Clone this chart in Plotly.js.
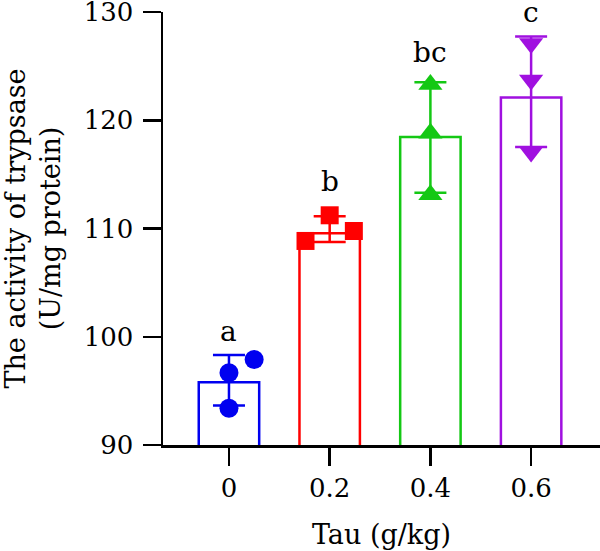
<!DOCTYPE html>
<html>
<head>
<meta charset="utf-8">
<script src="https://cdn.plot.ly/plotly-3.0.1.min.js"></script>
<style>
  html, body { margin: 0; padding: 0; background: #fff; }
  #chart { width: 600px; height: 551px; }
</style>
</head>
<body>
<div id="chart"></div>
<script>
// Tau dose groups (g/kg)
const doses = ['0', '0.2', '0.4', '0.6'];

// Bar heights (group means)
const barMeans = [95.8, 109.55, 118.45, 122.1];

// Individual replicate values per group
const tau0 = [97.9, 96.67, 93.39];
const tau02 = [111.22, 108.85, 109.77];
const tau04 = [123.3, 118.8, 113.12];
const tau06 = [127.1, 123.72, 117.06];

// Significance letters and the value each one sits on
const letters = ['a', 'b', 'bc', 'c'];
const letterY = [99.4, 113.25, 125.24, 128.93];

// Horizontal spread of the replicate points inside each bar
const jitter = [
  [0.25, 0, 0],
  [0, -0.24, 0.24],
  [0, 0, 0],
  [0, 0, 0]
];

const groups = [tau0, tau02, tau04, tau06];
const colors = ['#0000f0', '#ff0000', '#14c814', '#a010e0'];
const symbols = ['circle', 'square', 'triangle-up', 'triangle-down'];
const sizes = [19, 18, 21, 21];
const FONT = 'DejaVu Serif, Liberation Serif, serif';

function mean(a) { return a.reduce((s, v) => s + v, 0) / a.length; }
function sd(a) {
  const m = mean(a);
  return Math.sqrt(a.reduce((s, v) => s + (v - m) * (v - m), 0) / (a.length - 1));
}

const idx = doses.map((_, i) => i);
const traces = [];

// Open bars
traces.push({
  type: 'bar',
  x: idx,
  y: barMeans,
  width: 0.6,
  marker: {
    color: 'rgba(255,255,255,0)',
    line: { color: colors, width: 2.5 }
  },
  hoverinfo: 'skip'
});

// Mean ± SD whiskers and replicate points
groups.forEach((vals, i) => {
  traces.push({
    type: 'scatter',
    mode: 'markers',
    x: [i],
    y: [mean(vals)],
    marker: { size: 0.1, color: colors[i], opacity: 0 },
    error_y: {
      type: 'data',
      array: [sd(vals)],
      visible: true,
      color: colors[i],
      thickness: 2.5,
      width: 16
    },
    hoverinfo: 'skip'
  });
  traces.push({
    type: 'scatter',
    mode: 'markers',
    x: vals.map((_, k) => i + jitter[i][k]),
    y: vals,
    marker: {
      symbol: symbols[i],
      size: sizes[i],
      color: colors[i],
      line: { width: 0 }
    },
    cliponaxis: false
  });
});

const annotations = letters.map((t, i) => ({
  x: i,
  y: letterY[i],
  xref: 'x',
  yref: 'y',
  text: t,
  showarrow: false,
  yanchor: 'bottom',
  yshift: -7,
  font: { family: FONT, size: 28, color: '#000' }
}));

const layout = {
  width: 600,
  height: 551,
  margin: { l: 163, r: 0, t: 12, b: 106 },
  paper_bgcolor: '#fff',
  plot_bgcolor: '#fff',
  showlegend: false,
  bargap: 0,
  font: { family: FONT, color: '#000' },
  xaxis: {
    range: [-0.655, 3.684],
    tickvals: idx,
    ticktext: doses,
    showline: true,
    linecolor: '#000',
    linewidth: 2.5,
    ticks: 'outside',
    ticklen: 18,
    tickwidth: 2.5,
    tickcolor: '#000',
    showgrid: false,
    zeroline: false,
    tickfont: { family: FONT, size: 26, color: '#000' },
    title: {
      text: 'Tau (g/kg)',
      font: { family: FONT, size: 27, color: '#000' },
      standoff: 24
    }
  },
  yaxis: {
    range: [90, 130],
    tickvals: [90, 100, 110, 120, 130],
    showline: true,
    linecolor: '#000',
    linewidth: 2.5,
    ticks: 'outside',
    ticklen: 18,
    tickwidth: 2.5,
    tickcolor: '#000',
    showgrid: false,
    zeroline: false,
    ticklabeloverflow: 'allow',
    ticklabelstandoff: 4,
    tickfont: { family: FONT, size: 26, color: '#000' },
    title: {
      text: 'The activity of trypsase<br>(U/mg protein)',
      font: { family: FONT, size: 27, color: '#000' },
      standoff: 17
    }
  },
  annotations: annotations
};

Plotly.newPlot('chart', traces, layout, { staticPlot: true, displayModeBar: false });
</script>
</body>
</html>
